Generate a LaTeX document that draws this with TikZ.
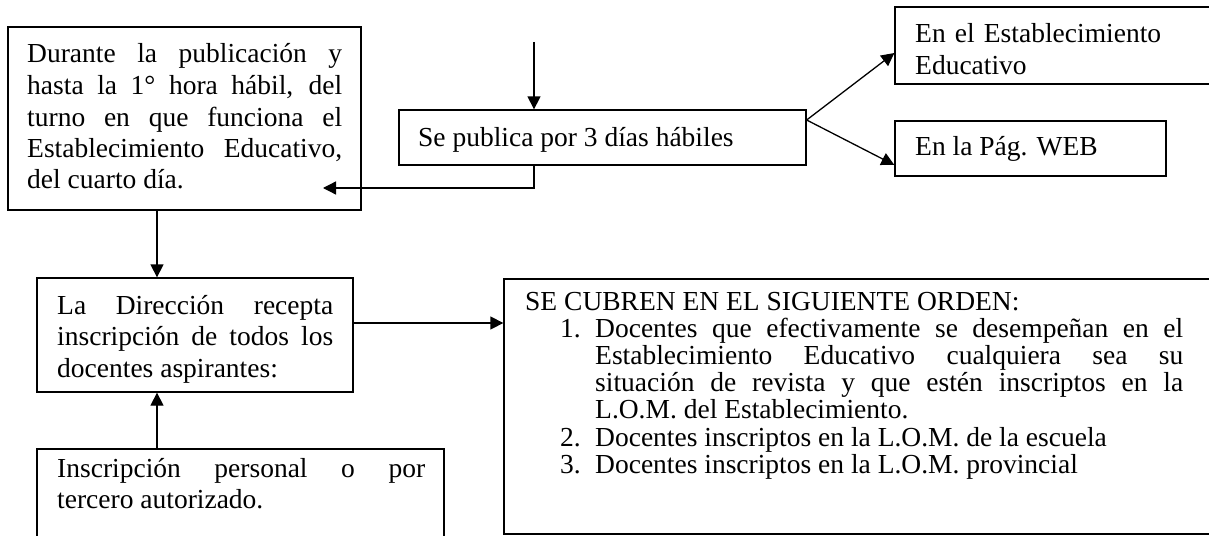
\documentclass[tikz,border=0pt]{standalone}
\usepackage{fontspec}
\setmainfont{Liberation Serif}
\usetikzlibrary{arrows.meta,fit}
\newcommand\myfontA{\fontsize{27.5}{31.5}\selectfont}
\newcommand\myfontF{\fontsize{27.5}{27.2}\selectfont}
\begin{document}
\begin{tikzpicture}[x=1pt,y=-1pt,
  box/.style={draw, line width=1.3pt, inner sep=0pt},
  txt/.style={inner sep=0pt, anchor=base west, align=justify, font=\myfontA},
  txtl/.style={inner sep=0pt, anchor=base west, align=left, font=\myfontA},
  arr/.style={line width=1.3pt, -{Triangle[length=13pt,width=13pt]}}]
\useasboundingbox (0,0) rectangle (1209,535);
\clip (0,0) rectangle (1209,535);

% boxes
\node[box, fit={(8,27) (361,210)}] (A) {};
\node[box, fit={(399,110) (806,165)}] (B) {};
\node[box, fit={(895,7) (1230,84)}] (C) {};
\node[box, fit={(895,121) (1166,176)}] (D) {};
\node[box, fit={(37,278) (353,392)}] (E) {};
\node[box, fit={(37,449) (444,560)}] (G) {};
\node[box, fit={(504,279) (1230,534)}] (F) {};

% texts
\node[txt, text width=315pt] (At) at (27,63) {\myfontA Durante la publicación y\linebreak
hasta la 1° hora hábil, del\linebreak
turno en que funciona el\linebreak
Establecimiento Educativo,\linebreak
del cuarto día.\par};
\node[txtl] (Bt) at (418,146) {Se publica por 3 días hábiles};
\node[txtl, text width=290pt] (Ct) at (915,43) {\myfontA En el Establecimiento\\Educativo\par};
\node[txtl] (Dt) at (915,155) {En la Pág. WEB};
\node[txt, text width=276pt] (Et) at (57,314) {\myfontA La Dirección recepta\linebreak
inscripción de todos los\linebreak
docentes aspirantes:\par};
\node[txt, text width=368pt] (Gt) at (57,477) {\myfontA Inscripción personal o por\linebreak
tercero autorizado.\par};
\node[txt, text width=658pt, font=\myfontF] (Ft) at (525,310) {\myfontF SE CUBREN EN EL SIGUIENTE ORDEN:\par
\leftskip=70pt
\noindent\llap{\makebox[35pt][l]{1.}}Docentes que efectivamente se desempeñan en el\linebreak
Establecimiento Educativo cualquiera sea su\linebreak
situación de revista y que estén inscriptos en la\linebreak
L.O.M. del Establecimiento.\par
\noindent\llap{\makebox[35pt][l]{2.}}Docentes inscriptos en la L.O.M. de la escuela\par
\noindent\llap{\makebox[35pt][l]{3.}}Docentes inscriptos en la L.O.M. provincial\par};

% helper coordinates
\coordinate (top) at (534,42);
\coordinate (Ain) at (323,188);
\coordinate (col) at (157,0);
\coordinate (row) at (0,323);
\coordinate (bs) at (0,120);
\coordinate (ce) at (0,53);
\coordinate (de) at (0,165);

% connectors
\draw[arr] (top) -- (top |- B.north);
\draw[arr] (top |- B.south) |- (Ain);
\draw[arr] (B.east |- bs) -- (C.west |- ce);
\draw[arr] (B.east |- bs) -- (D.west |- de);
\draw[arr] (A.south -| col) -- (E.north -| col);
\draw[arr] (G.north -| col) -- (E.south -| col);
\draw[arr] (E.east |- row) -- (F.west |- row);
\end{tikzpicture}
\end{document}
